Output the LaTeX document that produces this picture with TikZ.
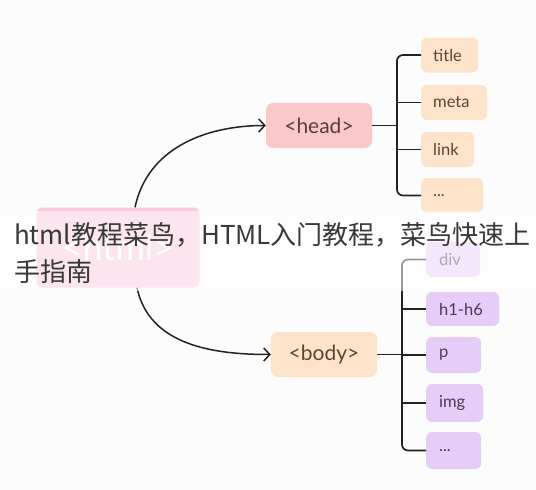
\documentclass[tikz,border=0pt]{standalone}
\usepackage{fontspec}
\usetikzlibrary{arrows.meta}
\newfontfamily\labelfont{Lato}
\newfontfamily\cjkfont{Noto Sans CJK SC}
\definecolor{bgc}{HTML}{FCFCFC}
\definecolor{pinkhtml}{HTML}{F9C6DA}
\definecolor{headc}{HTML}{F9C8C8}
\definecolor{peach}{HTML}{FDE3C9}
\definecolor{lav}{HTML}{E5CDF7}
\definecolor{linec}{HTML}{222222}
\definecolor{txthead}{HTML}{5C3D3D}
\definecolor{txtpeach}{HTML}{5A4636}
\definecolor{txtlav}{HTML}{4A3B57}
\definecolor{ovtxt}{HTML}{383838}
\tikzset{
  mainbox/.style={rounded corners=7pt, minimum width=106pt, minimum height=45pt, inner sep=0pt, font=\labelfont\fontsize{21}{24}\selectfont},
  hchild/.style={fill=peach, text=txtpeach, rounded corners=6pt, minimum height=35pt, inner xsep=12pt, inner ysep=0pt, anchor=west, align=left, font=\labelfont\fontsize{16.5}{19}\selectfont},
  bchild/.style={fill=lav, text=txtlav, rounded corners=6pt, minimum height=36pt, inner xsep=13pt, inner ysep=0pt, anchor=west, align=left, font=\labelfont\fontsize{16.5}{19}\selectfont},
  arr/.style={draw=linec, line width=1.5pt, -{Straight Barb[length=6pt,width=13pt,line width=1.5pt]}},
  brk/.style={draw=linec, line width=1.7pt, rounded corners=6pt},
  ovl/.style={font=\cjkfont\fontsize{26}{30}\selectfont, text=ovtxt, anchor=base west, inner sep=0pt}
}
\begin{document}
\begin{tikzpicture}[x=1pt,y=-1pt]
\fill[bgc] (0,0) rectangle (536,490);
\useasboundingbox (0,0) rectangle (536,490);

% root
\node[rounded corners=6pt, fill=pinkhtml, minimum width=163pt, minimum height=80pt, inner sep=0pt, text=white, font=\labelfont\fontsize{36}{40}\selectfont] (html) at (118,247.5) {<html>};

% head
\node[mainbox, fill=headc, text=txthead] (head) at (319,125.5) {<head>};
\node[hchild, text width=33pt] (title) at (421,55) {title};
\node[hchild, text width=42pt] (meta) at (421,102.5) {meta};
\node[hchild, text width=29pt] (link) at (421,149.5) {link};
\node[hchild, text width=38pt] (hdots) at (421,195.5) {...};

% body
\node[mainbox, fill=peach, text=txtpeach] (body) at (324,354.5) {<body>};
\node[bchild, text width=28pt, minimum height=35pt] (div) at (426,259.5) {div};
\node[bchild, text width=47pt, minimum height=34pt] (h16) at (426,309) {h1-h6};
\node[bchild, text width=29pt] (p) at (426,355) {p};
\node[bchild, text width=31pt, minimum height=38pt] (img) at (426,403) {img};
\node[bchild, text width=29pt, minimum height=37pt] (bdots) at (426,450.5) {...};

% connectors
\draw[arr] ([xshift=17pt]html.north) to[out=78,in=180] (head.west);
\draw[arr] ([xshift=19pt]html.south) to[out=-78,in=180] (body.west);

\coordinate (hb) at (397,125.5);
\draw[brk] (title.west) -| (hb) |- (hdots.west);
\draw[brk] (head.east) -- (hb);
\draw[brk] (meta.west) -- (meta.west -| hb);
\draw[brk] (link.west) -- (link.west -| hb);

\coordinate (bb) at (402,354.5);
\draw[brk] (div.west) -| (bb) |- (bdots.west);
\draw[brk] (body.east) -- (bb);
\draw[brk] (h16.west) -- (h16.west -| bb);
\draw[brk] (img.west) -- (img.west -| bb);
\draw[brk] (p.west) -- (p.west -| bb);

% overlay band and text
\fill[white, opacity=0.55] (0,211) rectangle (536,291);
\node[ovl] (ov1) at (14,244) {html教程菜鸟，HTML入门教程，菜鸟快速上};
\node[ovl] (ov2) at (14,281) {手指南};
\end{tikzpicture}
\end{document}
